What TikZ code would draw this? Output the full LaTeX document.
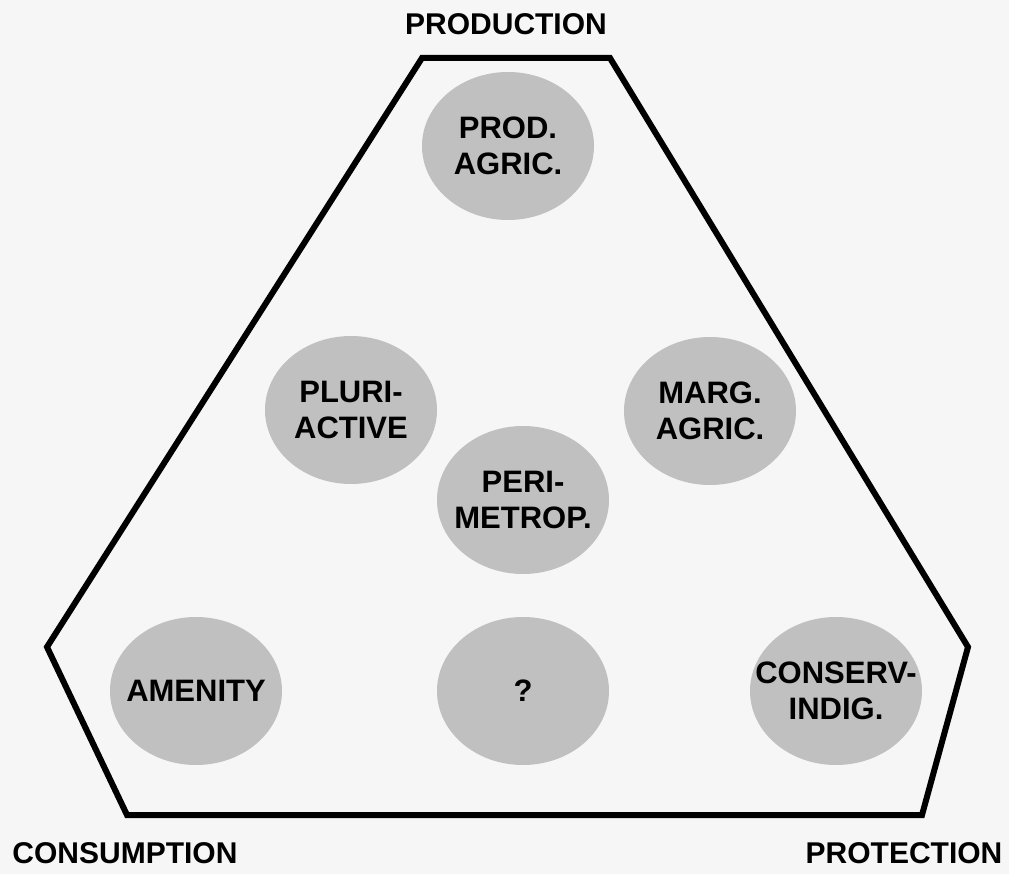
\documentclass[tikz,border=0pt]{standalone}
\usepackage{fontspec}
\setmainfont{Liberation Sans}
\usetikzlibrary{shapes.geometric}
\definecolor{blob}{RGB}{192,192,192}
\definecolor{paper}{RGB}{246,246,246}
\begin{document}
\begin{tikzpicture}[x=1pt,y=-1pt,
  zone/.style={ellipse, fill=blob, minimum width=172pt, minimum height=148pt, inner sep=0pt},
  zonetext/.style={align=center, inner sep=0pt, font=\fontsize{31}{36}\selectfont\bfseries},
  pole/.style={anchor=base, inner sep=0pt, font=\fontsize{30}{34}\selectfont\bfseries},
  frame/.style={line width=6pt, line join=miter}]
% page
\fill[paper] (0,0) rectangle (1009,874);
\useasboundingbox (0,0) rectangle (1009,874);
% outline of the landscape space
\draw[frame] (422,58) -- (610,58) -- (968,647) -- (922,815) -- (127,815) -- (47,647) -- cycle;
% rural space types
\node[zone, label={[zonetext]center:{PROD.\\AGRIC.}}] (prod) at (508,146) {};
\node[zone, label={[zonetext]center:{PLURI-\\ACTIVE}}] (pluri) at (351,410) {};
\node[zone, label={[zonetext]center:{MARG.\\AGRIC.}}] (marg) at (710,411) {};
\node[zone, label={[zonetext]center:{PERI-\\METROP.}}] (peri) at (523,500) {};
\node[zone, label={[zonetext]center:{AMENITY}}] (amenity) at (196,691) {};
\node[zone, label={[zonetext]center:{?}}] (unknown) at (523,691) {};
\node[zone, label={[zonetext]center:{CONSERV-\\INDIG.}}] (conserv) at (836,691) {};
% poles
\node[pole] (production) at (506,35) {PRODUCTION};
\node[pole] (consumption) at (125,863) {CONSUMPTION};
\node[pole] (protection) at (904,863) {PROTECTION};
\end{tikzpicture}
\end{document}
